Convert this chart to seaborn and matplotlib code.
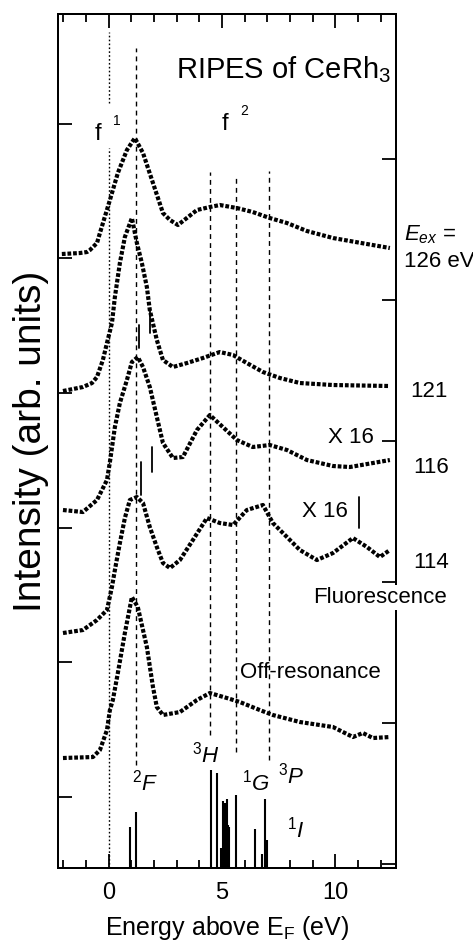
import matplotlib
matplotlib.use("Agg")
import matplotlib.pyplot as plt
from matplotlib.ticker import MultipleLocator
import numpy as np
import pandas as pd
import seaborn as sns

# spectra (energy in eV, intensity in arb. units incl. offset)
e_126 = [-2.06, -1.26, -0.95, -0.82, -0.51, -0.38, 0.06, 0.41, 0.81, 1.16, 1.52, 1.96, 2.40, 2.71, 3.06,
         3.90, 4.47, 4.91, 5.66, 6.36, 7.11, 7.87, 8.75, 9.90, 11.40, 12.41]
i_126 = [6.14, 6.15, 6.16, 6.18, 6.25, 6.35, 6.68, 6.95, 7.18, 7.30, 7.15, 6.85, 6.55, 6.48, 6.43,
         6.58, 6.61, 6.63, 6.60, 6.56, 6.50, 6.45, 6.37, 6.30, 6.24, 6.20]

e_121 = [-2.01, -1.13, -0.73, -0.51, -0.25, -0.07, 0.15, 0.28, 0.50, 0.72, 1.03, 1.25, 1.47, 1.69, 1.82,
         2.13, 2.40, 2.84, 3.46, 4.16, 4.91, 5.49, 6.10, 6.81, 7.56, 8.44, 9.90, 12.41]
i_121 = [4.77, 4.81, 4.85, 4.91, 5.08, 5.25, 5.45, 5.71, 6.05, 6.31, 6.50, 6.25, 6.05, 5.81, 5.58,
         5.28, 5.08, 5.01, 5.05, 5.10, 5.16, 5.13, 5.05, 4.96, 4.90, 4.85, 4.83, 4.82]

e_116 = [-2.01, -1.13, -0.51, -0.07, 0.06, 0.28, 0.50, 0.81, 1.03, 1.29, 1.52, 1.82, 2.13, 2.40, 2.84,
         3.28, 3.90, 4.47, 5.04, 5.66, 6.36, 7.11, 7.87, 8.75, 9.90, 10.65, 11.66, 12.41]
i_116 = [3.58, 3.56, 3.68, 3.88, 4.06, 4.41, 4.65, 4.88, 5.06, 5.11, 5.01, 4.81, 4.51, 4.25, 4.10,
         4.11, 4.38, 4.53, 4.41, 4.28, 4.21, 4.23, 4.18, 4.08, 4.02, 4.01, 4.05, 4.08]

e_114 = [-2.01, -1.13, -0.51, -0.07, 0.15, 0.28, 0.50, 0.72, 0.94, 1.25, 1.52, 1.82, 2.13, 2.40, 2.71,
         3.15, 3.72, 4.34, 4.91, 5.49, 6.10, 6.81, 7.25, 7.87, 8.44, 9.19, 9.90, 10.78, 11.40, 11.97, 12.41]
i_114 = [2.35, 2.38, 2.48, 2.58, 2.81, 2.98, 3.25, 3.50, 3.68, 3.71, 3.65, 3.41, 3.21, 3.05, 3.00,
         3.08, 3.28, 3.50, 3.45, 3.43, 3.58, 3.63, 3.45, 3.31, 3.18, 3.08, 3.15, 3.30, 3.21, 3.11, 3.18]

e_off = [-2.01, -0.69, -0.38, -0.07, 0.06, 0.19, 0.41, 0.72, 1.03, 1.29, 1.69, 1.96, 2.13, 2.40, 3.15,
         3.90, 4.47, 5.22, 5.79, 6.67, 7.25, 8.44, 9.90, 10.78, 11.22, 11.66, 12.41]
i_off = [1.10, 1.11, 1.18, 1.38, 1.58, 1.68, 1.95, 2.35, 2.71, 2.61, 2.21, 1.81, 1.61, 1.53, 1.56,
         1.68, 1.75, 1.70, 1.66, 1.58, 1.53, 1.46, 1.41, 1.31, 1.35, 1.30, 1.31]

# calculated multiplet lines
stick_e = [0.94, 1.21, 4.52, 4.80, 4.94, 5.07, 5.12, 5.22, 5.28, 5.33, 5.62, 6.44, 6.79, 6.90, 6.98]
stick_h = [0.41, 0.56, 0.98, 0.95, 0.20, 0.67, 0.65, 0.69, 0.43, 0.41, 0.73, 0.39, 0.14, 0.69, 0.28]

left_ticks = [0.71, 2.06, 3.40, 4.75, 6.10, 7.44]
right_ticks = [0.04, 1.45, 2.86, 4.27, 5.68, 7.09]

sns.set_style("ticks")
plt.rcParams['font.family'] = ['Liberation Sans', 'DejaVu Sans']
plt.rcParams['mathtext.fontset'] = 'custom'
plt.rcParams['mathtext.rm'] = 'Liberation Sans'
plt.rcParams['mathtext.it'] = 'Liberation Sans:italic'
plt.rcParams['text.color'] = 'black'
plt.rcParams['axes.labelcolor'] = 'black'
plt.rcParams['xtick.color'] = 'black'
plt.rcParams['ytick.color'] = 'black'
plt.rcParams['axes.edgecolor'] = 'black'

fig = plt.figure(figsize=(4.73, 9.47), dpi=100)
ax = fig.add_axes([0.1226, 0.0834, 0.7146, 0.9018])

curves = [(e_126, i_126), (e_121, i_121), (e_116, i_116), (e_114, i_114), (e_off, i_off)]
for e, i in curves:
    df = pd.DataFrame({'E': e, 'I': i})
    sns.lineplot(data=df, x='E', y='I', ax=ax, color='black', linewidth=3.0,
                 linestyle=(0, (0.9, 0.45)), estimator=None, sort=False)

# guide lines
ax.plot([0, 0], [7.65, 8.36], color='black', lw=1.0, linestyle=(0, (1.2, 1.6)))
ax.plot([0, 0], [0, 7.20], color='black', lw=1.0, linestyle=(0, (1.2, 1.6)))
ax.plot([1.21, 1.21], [1.03, 8.20], color='black', lw=1.0, linestyle=(0, (3.5, 3)))
ax.plot([4.47, 4.47], [1.33, 6.96], color='black', lw=1.0, linestyle=(0, (3.5, 3)))
ax.plot([5.62, 5.62], [1.16, 6.90], color='black', lw=1.0, linestyle=(0, (3.5, 3)))
ax.plot([7.08, 7.08], [1.08, 6.97], color='black', lw=1.0, linestyle=(0, (3.5, 3)))

# small threshold markers
for x, y0, y1 in [(1.34, 5.20, 5.43), (1.83, 5.35, 5.58), (1.41, 3.73, 4.06),
                  (1.90, 3.96, 4.21), (11.05, 3.40, 3.71)]:
    ax.plot([x, x], [y0, y1], color='black', lw=1.3)

ax.vlines(stick_e, 0, stick_h, color='black', lw=1.5)

ax.set_xlim(-2.23, 12.68)
ax.set_ylim(0, 8.54)
ax.xaxis.set_major_locator(MultipleLocator(5))
ax.xaxis.set_minor_locator(MultipleLocator(1))
ax.set_yticks(left_ticks)
ax.set_yticklabels([])
ax.tick_params(axis='x', which='major', direction='in', top=True, length=10, width=1.3,
               labelsize=17, pad=10)
ax.tick_params(axis='x', which='minor', direction='in', top=True, length=5.5, width=1.3)
ax.tick_params(axis='y', direction='in', length=10, width=1.3, right=False)
for s in ax.spines.values():
    s.set_linewidth(1.4)

ax2 = ax.twinx()
ax2.set_ylim(0, 8.54)
ax2.set_yticks(right_ticks)
ax2.set_yticklabels([])
ax2.tick_params(axis='y', direction='in', length=10, width=1.3)
for s in ax2.spines.values():
    s.set_linewidth(1.4)

ax.set_xlabel("Energy above E$_\\mathrm{F}$ (eV)", fontsize=18, labelpad=7)
ax.set_ylabel("Intensity (arb. units)", fontsize=28, labelpad=3)

ax.text(12.45, 7.90, "RIPES of CeRh$_3$", fontsize=21, ha='right', va='baseline')
ax.text(-0.6, 7.28, "f", fontsize=17, va='baseline')
ax.text(0.2, 7.43, "1", fontsize=10, va='baseline')
ax.text(5.0, 7.38, "f", fontsize=17, va='baseline')
ax.text(5.8, 7.53, "2", fontsize=10, va='baseline')

ax.text(13.03, 6.28, "$\\mathit{E}_{ex}$ =", fontsize=16, va='baseline', clip_on=False)
ax.text(13.03, 6.01, "126 eV", fontsize=16, va='baseline', clip_on=False)
ax.text(13.29, 4.71, "121", fontsize=16, va='baseline', clip_on=False)
ax.text(13.42, 3.95, "116", fontsize=16, va='baseline', clip_on=False)
ax.text(13.42, 3.00, "114", fontsize=16, va='baseline', clip_on=False)
ax.text(9.68, 4.25, "X 16", fontsize=16, va='baseline')
ax.text(8.53, 3.51, "X 16", fontsize=16, va='baseline')
# drawn on the twin axes so its white box hides the right spine
ax2.text(9.01, 2.65, "Fluorescence", fontsize=16, va='baseline', clip_on=False, zorder=5,
         bbox=dict(facecolor='white', edgecolor='none', pad=1.5))
ax.text(5.79, 1.90, "Off-resonance", fontsize=16, va='baseline')

ax.text(1.03, 0.78, "$^2F$", fontsize=16, va='baseline')
ax.text(3.68, 1.06, "$^3H$", fontsize=16, va='baseline')
ax.text(5.88, 0.78, "$^1G$", fontsize=16, va='baseline')
ax.text(7.47, 0.85, "$^3P$", fontsize=16, va='baseline')
ax.text(7.87, 0.31, "$^1I$", fontsize=16, va='baseline')

fig.savefig("out.png", dpi=100)
